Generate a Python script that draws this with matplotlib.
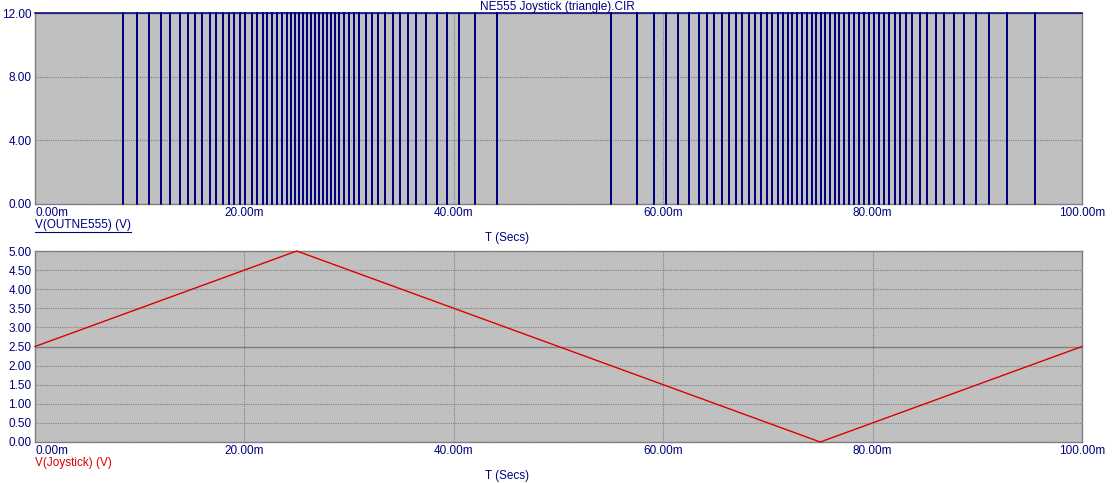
import matplotlib
matplotlib.use("Agg")
import matplotlib.pyplot as plt
from matplotlib.lines import Line2D
import numpy as np

# ----------------------------------------------------------------------------------------
# Data (times in ms)
# ----------------------------------------------------------------------------------------
pulse_times = [
    8.36, 9.74, 10.91, 11.99, 12.94, 13.84, 14.57, 15.27, 15.97, 16.67, 17.33, 17.95,
    18.55, 19.05, 19.57, 20.07, 20.68, 21.19, 21.73, 22.20, 22.68, 23.13, 23.61, 24.05,
    24.47, 24.85, 25.20, 25.61, 25.99, 26.37, 26.76, 27.14, 27.49, 27.87, 28.26, 28.67,
    29.08, 29.52, 29.97, 30.48, 30.98, 31.62, 32.23, 32.80, 33.44, 34.17, 34.90, 35.63,
    36.40, 37.32, 38.37, 39.39, 40.53, 42.06, 44.10, 55.04, 57.52, 59.15, 60.29, 61.44,
    62.46, 63.38, 64.15, 64.87, 65.58, 66.30, 66.98, 67.54, 68.21, 68.75, 69.30, 69.87,
    70.41, 70.92, 71.40, 71.88, 72.32, 72.77, 73.21, 73.69, 74.17, 74.61, 75.03, 75.47,
    75.92, 76.37, 76.81, 77.26, 77.70, 78.18, 78.66, 79.16, 79.67, 80.12, 80.57, 81.07,
    81.58, 82.16, 82.66, 83.20, 83.81, 84.51, 85.24, 86.04, 86.83, 87.73, 88.74, 89.89,
    91.12, 92.84, 95.51,
]
v_high = 12.0
v_low = 0.0
t_end = 100.0

joy_t = [0.0, 25.0, 75.0, 100.0]
joy_v = [2.5, 5.0, 0.0, 2.5]

top_yticks = [0, 4, 8, 12]
bot_yticks = [0.0, 0.5, 1.0, 1.5, 2.0, 2.5, 3.0, 3.5, 4.0, 4.5, 5.0]
xticks = [0, 20, 40, 60, 80, 100]

NAVY = "#000080"
GRAY = "#808080"
SILVER = "#c0c0c0"
RED = "#dd0000"
FS = 8.5

plt.rcParams["font.family"] = ["Liberation Sans", "DejaVu Sans"]
plt.rcParams["font.size"] = FS


def style_axes(ax, yticks, fmt):
    ax.set_facecolor(SILVER)
    ax.set_xlim(0, t_end)
    ax.set_xticks(xticks)
    ax.set_xticklabels(["%.2fm" % x for x in xticks])
    ax.set_yticks(yticks)
    ax.set_yticklabels([fmt % y for y in yticks])
    ax.tick_params(length=0, colors=NAVY, labelsize=FS, pad=2.5)
    ax.xaxis.get_ticklabels()[0].set_horizontalalignment("left")
    ax.grid(True, color=GRAY, linestyle=(0, (1, 1)), linewidth=0.8)
    for s in ax.spines.values():
        s.set_color(GRAY)
        s.set_linewidth(1.0)
    ax.set_axisbelow(True)


W, H = 1112, 483
fig = plt.figure(figsize=(W / 100, H / 100), dpi=100)
fig.patch.set_facecolor("white")

ax1 = fig.add_axes([35 / W, (H - 204) / H, 1047 / W, 191 / H])
ax2 = fig.add_axes([35 / W, (H - 442) / H, 1047 / W, 191 / H])

# top: 555 output, high with short low pulses
p = np.asarray(pulse_times)
wave_t = np.concatenate([[0.0], np.repeat(p, 3), [t_end]])
wave_v = np.concatenate([[v_high], np.tile([v_high, v_low, v_high], len(p)), [v_high]])
style_axes(ax1, top_yticks, "%.2f")
ax1.set_ylim(0, 12)
ax1.plot(wave_t, wave_v, color=NAVY, linewidth=1.1, clip_on=False, zorder=3)

# bottom: joystick triangle
style_axes(ax2, bot_yticks, "%.2f")
ax2.set_ylim(0, 5)
ax2.axhline(2.5, color=GRAY, linewidth=1.0, zorder=1)
ax2.plot(joy_t, joy_v, color=RED, linewidth=1.0, clip_on=False, zorder=3)

# texts
fig.text(557 / W, 1 - 7 / H, "NE555 Joystick (triangle).CIR", color=NAVY,
         ha="center", va="center", fontsize=FS)
lbl = fig.text(35 / W, 1 - 225 / H, "V(OUTNE555) (V)", color=NAVY,
               ha="left", va="center", fontsize=FS)
fig.text(507 / W, 1 - 238 / H, "T (Secs)", color=NAVY, ha="center", va="center", fontsize=FS)
fig.text(35 / W, 1 - 463 / H, "V(Joystick) (V)", color=RED, ha="left", va="center", fontsize=FS)
fig.text(507 / W, 1 - 476 / H, "T (Secs)", color=NAVY, ha="center", va="center", fontsize=FS)

# underline the top trace label
fig.canvas.draw()
bb = lbl.get_window_extent().transformed(fig.transFigure.inverted())
fig.add_artist(Line2D([bb.x0, bb.x1], [bb.y0 - 0.002, bb.y0 - 0.002],
                      transform=fig.transFigure, color=NAVY, linewidth=0.8))

fig.savefig("out.png", dpi=100, facecolor="white")
